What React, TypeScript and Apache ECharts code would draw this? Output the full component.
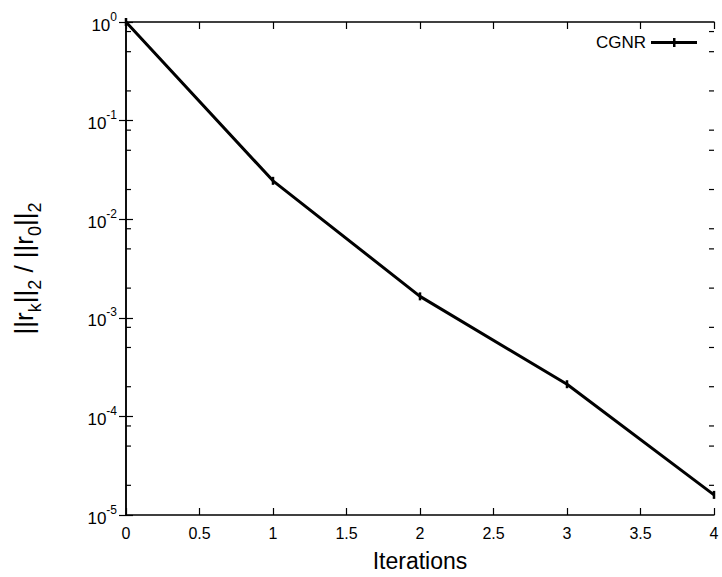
import React, { useEffect, useRef } from "react";
import * as echarts from "echarts";

const iterations = [0, 1, 2, 3, 4];
const residuals = [1.0, 0.0245, 0.00165, 2.12e-4, 1.6e-5];
const seriesName = "CGNR";
const decades = [1, 0.1, 0.01, 0.001, 0.0001];
const minorFactors = [0.8, 0.5, 0.2];

export default function App() {
  const ref = useRef<HTMLDivElement>(null);
  useEffect(() => {
    if (!ref.current) return;
    const chart = echarts.init(ref.current, null, { renderer: "svg" });
    const minorTicks: number[] = [];
    decades.forEach((d) => minorFactors.forEach((f) => minorTicks.push(d * f)));
    const font = "'Liberation Sans', Arial, sans-serif";
    chart.setOption({
      animation: false,
      backgroundColor: "#ffffff",
      textStyle: { fontFamily: font, color: "#000" },
      grid: { left: 126, right: 8, top: 22, bottom: 61 },
      legend: {
        show: true,
        data: [{ name: seriesName, icon: "path://M0,4 L46,4 L46,7 L0,7 Z M22,1 L24.5,1 L24.5,10 L22,10 Z" }],
        right: 20,
        top: 29,
        align: "right",
        itemWidth: 46,
        itemHeight: 10,
        itemGap: 8,
        textStyle: { fontSize: 17, color: "#000", fontFamily: font },
      },
      xAxis: [
        {
          type: "value",
          min: 0,
          max: 4,
          interval: 0.5,
          position: "bottom",
          name: "Iterations",
          nameLocation: "middle",
          nameGap: 34,
          nameTextStyle: { fontSize: 23, color: "#000", fontFamily: font },
          axisLine: { show: true, lineStyle: { color: "#000", width: 1.5 } },
          axisTick: { show: true, inside: true, length: 7, lineStyle: { color: "#000", width: 1.2 } },
          axisLabel: { fontSize: 16, color: "#000", margin: 10, fontFamily: font },
          splitLine: { show: false },
        },
        {
          type: "value",
          min: 0,
          max: 4,
          interval: 0.5,
          position: "top",
          axisLine: { show: true, lineStyle: { color: "#000", width: 1.5 } },
          axisTick: { show: true, inside: true, length: 7, lineStyle: { color: "#000", width: 1.2 } },
          axisLabel: { show: false },
          splitLine: { show: false },
        },
      ],
      yAxis: [
        {
          type: "log",
          logBase: 10,
          min: 1e-5,
          max: 1,
          splitNumber: 5,
          position: "left",
          name: "{n|||r}{sub|k}{n|||}{sub|2}{n| / ||r}{sub|0}{n|||}{sub|2}",
          nameLocation: "middle",
          nameGap: 82,
          nameRotate: 90,
          nameTextStyle: {
            fontFamily: font,
            color: "#000",
            rich: {
              n: { fontSize: 26, lineHeight: 33, verticalAlign: "top", fontFamily: font, color: "#000" },
              sub: { fontSize: 18, lineHeight: 18, verticalAlign: "bottom", fontFamily: font, color: "#000" },
            },
          },
          axisLine: { show: true, lineStyle: { color: "#000", width: 1.5 } },
          axisTick: { show: true, inside: true, length: 7, lineStyle: { color: "#000", width: 1.2 } },
          axisLabel: {
            margin: 9,
            formatter: (v: number) => {
              const e = Math.round(Math.log10(v));
              return "{b|10}{s|" + e + "}";
            },
            rich: {
              b: { fontSize: 17, lineHeight: 23, verticalAlign: "bottom", fontFamily: font, color: "#000" },
              s: { fontSize: 12, lineHeight: 12, verticalAlign: "top", fontFamily: font, color: "#000" },
            },
          },
          splitLine: { show: false },
        },
        {
          type: "log",
          logBase: 10,
          min: 1e-5,
          max: 1,
          splitNumber: 5,
          position: "right",
          axisLine: { show: true, lineStyle: { color: "#000", width: 1.5 } },
          axisTick: { show: true, inside: true, length: 7, lineStyle: { color: "#000", width: 1.2 } },
          axisLabel: { show: false },
          splitLine: { show: false },
        },
      ],
      series: [
        {
          name: seriesName,
          type: "line",
          xAxisIndex: 0,
          yAxisIndex: 0,
          data: iterations.map((x, i) => [x, residuals[i]]),
          symbol: "rect",
          symbolSize: [2.5, 8],
          showSymbol: true,
          itemStyle: { color: "#000" },
          lineStyle: { color: "#000", width: 3 },
          z: 5,
        },
        {
          name: "minor",
          type: "custom",
          xAxisIndex: 0,
          yAxisIndex: 0,
          silent: true,
          data: minorTicks.map((v) => [0, v]),
          renderItem: (params: any, api: any) => {
            const cs = params.coordSys;
            const pt = api.coord([0, api.value(1)]);
            const y = pt[1];
            const st = { stroke: "#000", lineWidth: 1.2 };
            return {
              type: "group",
              children: [
                { type: "line", shape: { x1: cs.x, y1: y, x2: cs.x + 5, y2: y }, style: st },
                { type: "line", shape: { x1: cs.x + cs.width - 5, y1: y, x2: cs.x + cs.width, y2: y }, style: st },
              ],
            };
          },
          z: 3,
        },
      ],
    });
    return () => chart.dispose();
  }, []);
  return <div ref={ref} style={{ width: 722, height: 577, position: "absolute", left: 0, top: 0 }} />;
}
